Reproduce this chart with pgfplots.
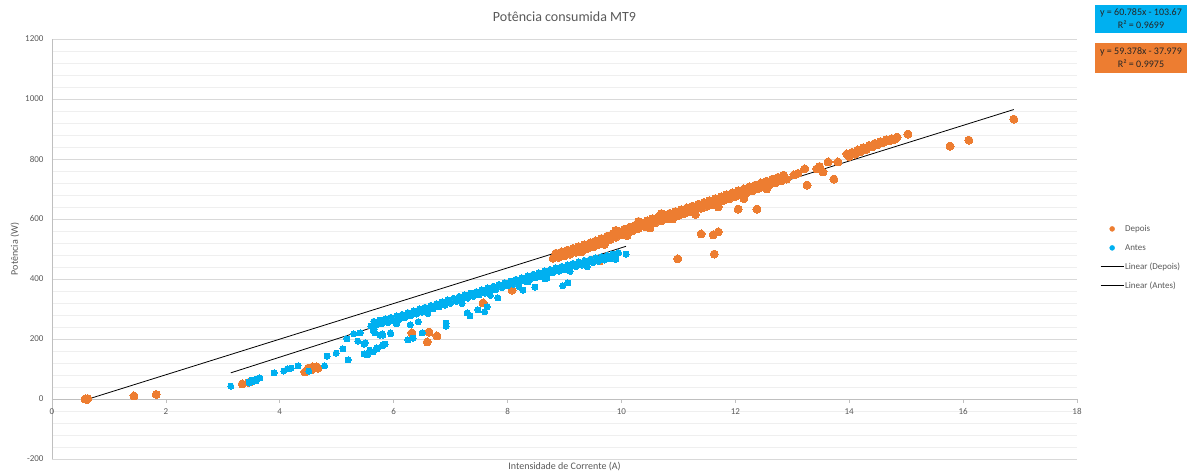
\documentclass[border=0pt]{standalone}
\usepackage{pgfplots}
\pgfplotsset{compat=1.18}
\usepackage{fontspec}
\setmainfont{Carlito}
\definecolor{dep}{HTML}{ED7D31}
\definecolor{ant}{HTML}{00B0F0}
\definecolor{gridmajor}{HTML}{D9D9D9}
\definecolor{gridminor}{HTML}{EFEFEF}
\definecolor{axisgray}{HTML}{BFBFBF}
\definecolor{labelgray}{HTML}{595959}
\definecolor{eqtext}{HTML}{262626}
\begin{document}
\begin{tikzpicture}
\useasboundingbox (-52pt,-17pt) rectangle (1135pt,459pt);
\begin{axis}[
  at={(0pt,0pt)}, anchor=south west,
  scale only axis, width=1025pt, height=420pt,
  xmin=0, xmax=18, ymin=-200, ymax=1200,
  xtick={0,2,...,18}, ytick={-200,0,...,1200},
  minor y tick num=4,
  ymajorgrids, yminorgrids,
  major grid style={draw=gridmajor, line width=0.8pt},
  minor grid style={draw=gridminor, line width=0.8pt},
  axis x line*=middle, axis y line*=left,
  axis line style={draw=axisgray, line width=0.8pt, -},
  hide obscured x ticks=false, hide obscured y ticks=false,
  xtick style={draw=axisgray, line width=0.6pt},
  ytick style={draw=none}, minor tick style={draw=none},
  major tick length=4pt, tick align=outside,
  /pgf/number format/assume math mode=true,
  /pgf/number format/set thousands separator={},
  ticklabel style={font=\fontsize{9}{10}\selectfont, text=labelgray},
  y tick label style={xshift=-1pt},
  x tick label style={yshift=-2pt},
  xlabel={Intensidade de Corrente (A)},
  ylabel={Potência (W)},
  every axis x label/.style={at={(axis description cs:0.5,-0.019)}, anchor=center,
    font=\fontsize{10}{12}\selectfont, text=labelgray},
  every axis y label/.style={at={(axis description cs:-0.0361,0.5)}, anchor=center, rotate=90,
    font=\fontsize{10}{12}\selectfont, text=labelgray},
  legend style={at={(axis description cs:1.0225,0.48)}, anchor=west,
    draw=none, fill=none, inner sep=0pt,
    font=\fontsize{9}{10}\selectfont, text=labelgray,
    nodes={inner sep=1pt, text height=7pt, text depth=2pt},
    row sep=8pt},
  legend cell align=left,
  clip=false,
]
% Depois (orange)
\addplot[dep, only marks, mark=*, mark size=4pt, mark options={draw=dep, fill=dep, line width=0pt},
  legend image code/.code={\fill[dep] (11.5pt,0pt) circle (2.5pt);}]
coordinates {
(0.58,0) (0.63,1) (0.61,-2) (1.44,10) (1.83,15) (3.34,50) (3.49,57) (3.45,55)
(4.44,90) (4.50,103) (4.58,107) (4.65,107) (4.67,103) (4.55,97)
(6.32,220) (6.59,190) (6.62,223) (6.76,210) (7.57,320) (8.08,363)
(9.62,460) (10.99,467) (11.40,550) (11.61,547) (11.70,557) (11.63,483)
(12.05,633) (12.38,633)
(8.80,469) (8.90,472) (9.00,477) (9.10,483) (9.20,489) (9.30,495) (9.40,501) (9.50,507)
(9.60,515) (9.70,523) (9.80,531) (9.90,539) (10.00,547) (10.10,554) (10.20,561) (10.30,568)
(10.40,575) (10.50,582) (10.60,588) (10.70,594) (10.80,600) (10.90,606) (11.00,612) (11.10,618)
(11.20,624) (11.30,630) (11.40,636) (11.50,642) (11.60,649) (11.70,655) (11.80,662) (11.90,668)
(12.00,675) (12.10,681) (12.20,688) (12.30,694) (12.40,701) (12.50,707) (12.60,714) (12.70,720)
(12.80,727) (12.90,733)
(8.85,486) (8.95,490) (9.05,496) (9.15,502) (9.25,508) (9.35,514) (9.45,520) (9.55,527)
(9.65,535) (9.75,543) (9.85,551) (9.95,559) (10.05,566) (10.15,573) (10.25,580) (10.35,587)
(10.45,594) (10.55,601) (10.65,607) (10.75,613) (10.85,619) (10.95,625) (11.05,631) (11.15,637)
(11.25,643) (11.35,649) (11.45,655) (11.55,661) (11.65,668) (11.75,674) (11.85,681) (11.95,687)
(12.05,694) (12.15,700) (12.25,707) (12.35,713) (12.45,720) (12.55,726) (12.65,733) (12.75,739)
(12.85,746)
(9.3,490) (9.7,515) (10.1,545) (10.5,575) (10.9,600) (9.5,522) (9.9,562) (10.3,592) (10.7,618)
(10.5,570) (11.3,615) (11.7,640) (12.15,668) (12.55,700)
(13.03,747) (13.10,752) (13.22,767) (13.26,713) (13.43,767) (13.54,757) (13.48,775)
(13.63,790) (13.73,733) (13.80,790) (13.96,817)
(14.00,808) (14.05,822) (14.10,816) (14.15,830) (14.20,824) (14.25,838) (14.30,832) (14.35,845)
(14.40,840) (14.45,852) (14.50,848) (14.55,858) (14.60,855) (14.65,864) (14.70,860) (14.75,868)
(14.80,865) (14.84,873)
(15.03,883) (15.77,843) (16.10,863) (16.89,933)
};
\addlegendentry{Depois}
% Antes (blue)
\addplot[ant, only marks, mark=*, mark size=3pt, mark options={draw=ant, fill=ant, line width=0pt},
  legend image code/.code={\fill[ant] (11.5pt,0pt) circle (2.5pt);}]
coordinates {
(3.14,43) (3.46,57) (3.47,53) (3.51,63) (3.52,57) (3.55,63) (3.60,67) (3.65,70) (3.58,60)
(3.90,87) (4.07,93) (4.13,100) (4.20,103) (4.32,110) (4.51,93) (4.79,110) (4.83,143)
(4.99,153) (5.11,167) (5.20,130) (5.18,200) (5.30,217) (5.41,220) (5.37,193) (5.48,183)
(5.48,150) (5.55,150) (5.64,157) (5.71,167) (5.80,177) (5.85,183) (5.67,220) (5.80,217)
(5.95,217) (5.66,233) (5.50,187) (5.58,163) (5.53,147) (5.70,170) (5.81,180) (5.64,230)
(5.76,213) (5.81,213) (5.94,220) (6.29,247) (6.43,257) (6.25,197) (6.50,220) (6.34,203)
(6.92,253) (6.92,243) (7.29,287) (7.34,277) (7.48,297) (7.60,290) (7.83,337) (8.27,363)
(8.48,373) (8.36,390) (7.64,307) (8.97,377) (9.06,387) (10.08,483) (9.89,480) (8.66,400)
(8.57,407)
(5.60,243) (5.70,247) (5.80,251) (5.90,255) (6.00,260) (6.10,265) (6.20,271) (6.30,277)
(6.40,283) (6.50,289) (6.60,295) (6.70,301) (6.80,307) (6.90,313) (7.00,319) (7.10,325)
(7.20,331) (7.30,336) (7.40,342) (7.50,347) (7.60,353) (7.70,359) (7.80,365) (7.90,371)
(8.00,377) (8.10,382) (8.20,388) (8.30,393) (8.40,399) (8.50,405) (8.60,410) (8.70,416)
(8.80,421) (8.90,426) (9.00,431) (9.10,436) (9.20,441) (9.30,446) (9.40,450) (9.50,455)
(9.60,459) (9.70,463) (9.80,467) (9.90,471)
(5.65,259) (5.75,263) (5.85,267) (5.95,272) (6.05,277) (6.15,282) (6.25,288) (6.35,294)
(6.45,300) (6.55,306) (6.65,312) (6.75,318) (6.85,324) (6.95,330) (7.05,336) (7.15,342)
(7.25,347) (7.35,353) (7.45,358) (7.55,364) (7.65,370) (7.75,376) (7.85,382) (7.95,388)
(8.05,393) (8.15,399) (8.25,404) (8.35,410) (8.45,416) (8.55,421) (8.65,427) (8.75,432)
(8.85,437) (8.95,442) (9.05,447) (9.15,452) (9.25,457) (9.35,462) (9.45,466) (9.55,471)
(9.65,475) (9.75,479) (9.85,483) (9.95,487)
(6.05,250) (6.6,285) (7.2,318) (7.7,345) (8.2,375) (8.69,403) (9.1,425) (9.4,440) (9.9,465)
};
\addlegendentry{Antes}
% trend lines
\addplot[black, line width=0.8pt,
  legend image code/.code={\draw[black, line width=0.8pt] (0pt,0pt) -- (23pt,0pt);}]
coordinates {(0.6,-2.35) (16.89,964.9)};
\addlegendentry{Linear (Depois)}
\addplot[black, line width=0.8pt,
  legend image code/.code={\draw[black, line width=0.8pt] (0pt,0pt) -- (23pt,0pt);}]
coordinates {(3.14,87.19) (10.08,509.04)};
\addlegendentry{Linear (Antes)}
% title
\node[font=\fontsize{14}{16}\selectfont, text=labelgray] at (rel axis cs:0.5,1) [yshift=22pt] {Potência consumida MT9};
\end{axis}
% equation boxes
\fill[ant] (1043pt,426pt) rectangle (1135pt,454pt);
\node[font=\fontsize{10}{13}\selectfont, text=eqtext, align=center] at (1089pt,440pt) {y = 60.785x - 103.67\\R² = 0.9699};
\fill[dep] (1043pt,386pt) rectangle (1135pt,416pt);
\node[font=\fontsize{10}{13}\selectfont, text=eqtext, align=center] at (1089pt,401pt) {y = 59.378x - 37.979\\R² = 0.9975};
\end{tikzpicture}
\end{document}
